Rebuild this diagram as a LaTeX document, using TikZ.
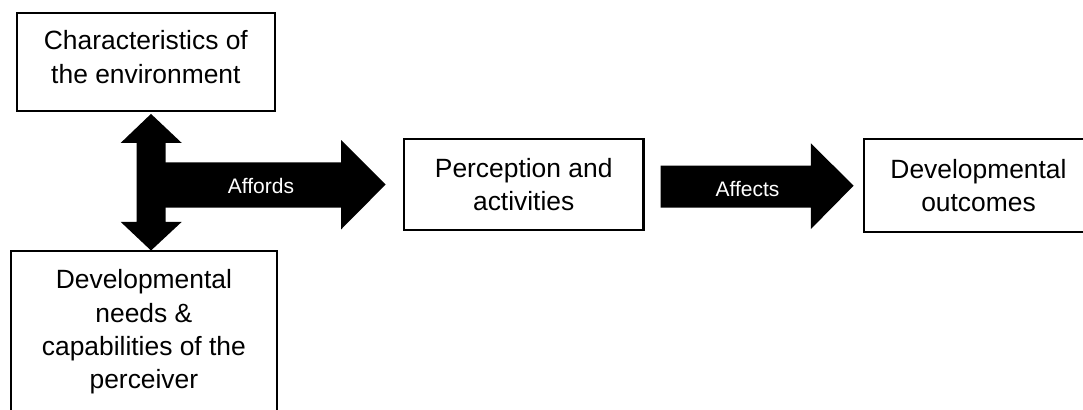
\documentclass[tikz,border=0pt]{standalone}
\usepackage{fontspec}
\setmainfont{Liberation Sans}
\usetikzlibrary{positioning}

\begin{document}
\begin{tikzpicture}[
    x=0.5pt, y=-0.5pt,
    box/.style={draw, line width=1.1pt, align=center, inner sep=0pt,
                font=\fontsize{13.2}{16.6}\selectfont},
    blockarrow/.style={fill=black},
    arrowlabel/.style={text=white, inner sep=0pt,
                       font=\fontsize{10.5}{12}\selectfont}
]
\useasboundingbox (0,0) rectangle (1083,409);
\clip (0,0) rectangle (1083,409);

% --- Boxes ---
\node[box, minimum width=129.2pt, minimum height=49.2pt] (env) at (145.9,61.9)
  {Characteristics of\\the environment\rule[-5pt]{0pt}{0pt}};
\node[box, minimum width=133.2pt, minimum height=81.2pt] (needs) at (143.9,331.9)
  {Developmental\\needs \&\\capabilities of the\\perceiver};
\node[box, minimum width=119.7pt, minimum height=45.5pt] (perc) at (523.7,184.5)
  {Perception and\\activities};
\node[box, minimum width=114.5pt, minimum height=46.5pt] (outc) at (978.5,185.7)
  {Developmental\\outcomes};

% --- Block arrows ---
% environment <-> perceiver
\fill[blockarrow] (env.south) ++(5.1,1.7) -- ++(30.7,29) -- ++(-16,0)
  -- ++(0,79) -- ++(16,0) -- ++(-30.7,28.6) -- ++(-30.3,-28.6)
  -- ++(16,0) -- ++(0,-79) -- ++(-16,0) -- cycle;
% affords
\fill[blockarrow] (perc.west) ++(-17.3,0) -- ++(-44.4,-44.5) -- ++(0,22.3)
  -- ++(-191.3,0) -- ++(0,45.4) -- ++(191.3,0) -- ++(0,21.6) -- cycle;
% affects
\fill[blockarrow] (outc.west) ++(-9.3,0) -- ++(-42.7,-42.4) -- ++(0,22.4)
  -- ++(-150.3,0) -- ++(0,42) -- ++(150.3,0) -- ++(0,21.3) -- cycle;

% Arrow labels
\node[arrowlabel] (affords) at (261,185.5) {Affords};
\node[arrowlabel] (affects) at (747.5,188.5) {Affects};

\end{tikzpicture}
\end{document}
